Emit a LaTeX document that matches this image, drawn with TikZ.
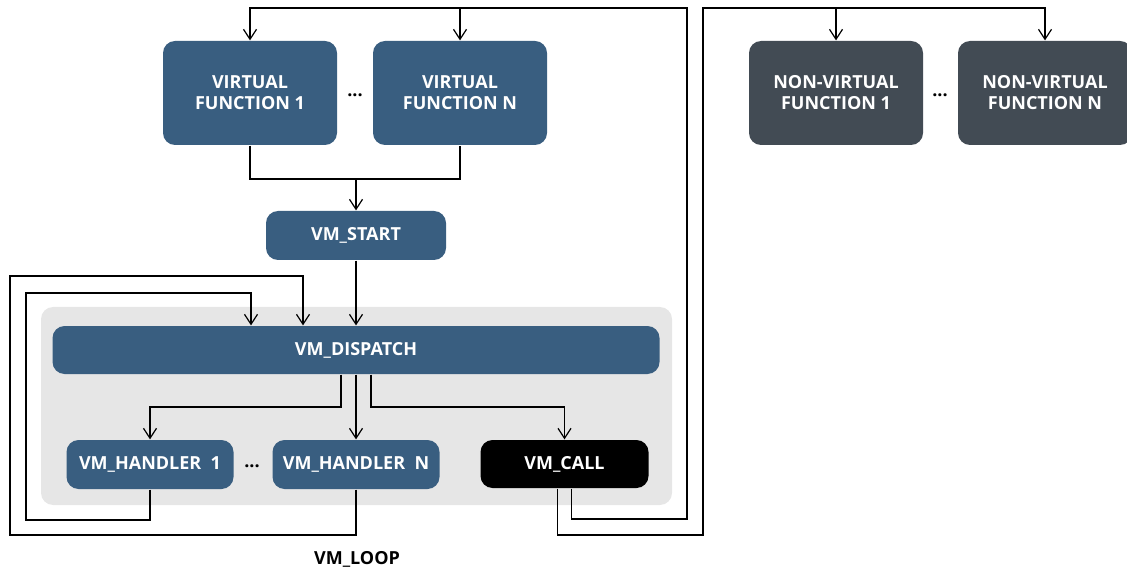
\documentclass[tikz,border=0pt]{standalone}
\usepackage{fontspec}
\setmainfont{Open Sans}
\usetikzlibrary{arrows.meta}
\usetikzlibrary{positioning}
\tikzset{->/.style = {-{Straight Barb[length = 10pt, width = 13pt]}}}
\tikzset{fbox/.style = {rounded corners = 12, text = white, align = center, inner sep = 0,
                        font = \bfseries\fontsize{18}{21}\selectfont}}
\tikzset{dots/.style = {font = \bfseries\fontsize{18}{21}\selectfont}}
\definecolor{vblue}{HTML}{395E80}
\definecolor{vgrey}{HTML}{424B54}
\definecolor{vpanel}{HTML}{E6E6E6}

\begin{document}
\begin{tikzpicture}[x = 1pt, y = -1pt, line width = 1.2pt]
      \useasboundingbox (0, 0) rectangle (1127, 569);
      \fill [vpanel, rounded corners = 12] (41, 307) rectangle (672, 505);

      \node [fbox, fill = vblue, minimum width = 174, minimum height = 104] (vf1) at (250, 93) {VIRTUAL\\FUNCTION 1};
      \node [fbox, fill = vblue, minimum width = 174, minimum height = 104] (vfn) at (460, 93) {VIRTUAL\\FUNCTION N};
      \node [dots] (vdots) at (355, 95) {...};
      \node [fbox, fill = vgrey, minimum width = 174, minimum height = 104] (nv1) at (836, 93) {NON-VIRTUAL\\FUNCTION 1};
      \node [fbox, fill = vgrey, minimum width = 174, minimum height = 104] (nvn) at (1045, 93) {NON-VIRTUAL\\FUNCTION N};
      \node [dots] (ndots) at (940, 95) {...};

      \node [fbox, fill = vblue, minimum width = 180, minimum height = 49] (start) at (356, 235.5) {VM\_START};
      \node [fbox, fill = vblue, minimum width = 607, minimum height = 48] (dispatch) at (356, 350) {VM\_DISPATCH};
      \node [fbox, fill = vblue, minimum width = 167, minimum height = 49] (h1) at (150, 464.5) {VM\_HANDLER\ \ 1};
      \node [fbox, fill = vblue, minimum width = 167, minimum height = 49] (hn) at (356, 464.5) {VM\_HANDLER\ \ N};
      \node [dots] (hdots) at (252, 466) {...};
      \node [fbox, fill = black, minimum width = 168, minimum height = 48] (call) at (564.5, 464) {VM\_CALL};
      \node [dots] (loop) at (357, 559) {VM\_LOOP};

      \coordinate (vjoin) at (356, 179);
      \coordinate (vret) at (687, 519);
      \coordinate (vtop) at (687, 8);
      \coordinate (nret) at (703, 535);
      \coordinate (ntop) at (703, 8);
      \coordinate (dleft) at (341, 407);
      \coordinate (dright) at (371, 407);
      \coordinate (ilow) at (26, 520);
      \coordinate (iin) at (251, 293);
      \coordinate (olow) at (10, 535);
      \coordinate (oin) at (303, 276);

      \draw (vf1.south) |- (vjoin) -| (vfn.south);
      \draw [->] (vjoin) -- (start.north);
      \draw [->] (start.south) -- (dispatch.north -| start.south);

      \draw [->] (dispatch.south -| dleft) -- (dleft) -| (h1.north);
      \draw [->] (dispatch.south -| hn.north) -- (hn.north);
      \draw [->] (dispatch.south -| dright) -- (dright) -| (call.north);

      \draw [->] (h1.south) |- (ilow) |- (iin) -- (iin |- dispatch.north);
      \draw [->] (hn.south) |- (olow) |- (oin) -- (oin |- dispatch.north);

      \draw [->] ([xshift = 7]call.south) |- (vret) -- (vtop) -| (vf1.north);
      \draw [->] (vfn.north |- vtop) -- (vfn.north);
      \draw [->] ([xshift = -7]call.south) |- (nret) -- (ntop) -| (nvn.north);
      \draw [->] (nv1.north |- ntop) -- (nv1.north);
\end{tikzpicture}
\end{document}
